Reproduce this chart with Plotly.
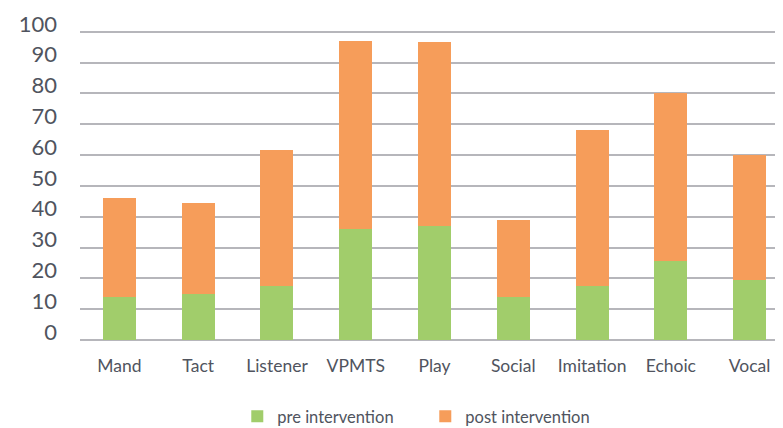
import plotly.graph_objects as go

categories = ["Mand", "Tact", "Listener", "VPMTS", "Play", "Social", "Imitation", "Echoic", "Vocal"]
pre_values = [14, 15, 17.5, 36, 37, 14, 17.5, 25.5, 19.5]
post_values = [32, 29.5, 44, 61, 59.8, 25, 50.5, 54.5, 40.5]
y_ticks = [0, 10, 20, 30, 40, 50, 60, 70, 80, 90, 100]

text_color = "#50545e"
font_family = "Lato, 'Open Sans', sans-serif"

fig = go.Figure()
fig.add_trace(go.Bar(x=categories, y=pre_values, name="pre intervention",
                     marker=dict(color="#A1CD6B", line=dict(width=0))))
fig.add_trace(go.Bar(x=categories, y=post_values, name="post intervention",
                     marker=dict(color="#F69D5A", line=dict(width=0))))

fig.update_layout(
    barmode="stack",
    bargap=0.58,
    width=783, height=428,
    margin=dict(l=72, r=2, t=22.4, b=94.3),
    plot_bgcolor="white", paper_bgcolor="white",
    font=dict(family=font_family, color=text_color),
    showlegend=True,
    legend=dict(orientation="h", x=0.487, xanchor="center", y=-0.247, yanchor="middle",
                font=dict(size=16.5, color=text_color), itemwidth=30,
                entrywidth=143, traceorder="normal"),
    xaxis=dict(range=[-0.5, 8.5], showgrid=False, showline=False, ticks="",
               automargin=False,
               tickfont=dict(size=17.5, color=text_color), ticklabelstandoff=13),
    yaxis=dict(range=[0, 100.6], tickvals=y_ticks, showgrid=True, gridcolor="#B6B6BB",
               gridwidth=2, zeroline=True, zerolinecolor="#B6B6BB", zerolinewidth=2,
               automargin=False,
               showline=False, ticks="", tickfont=dict(size=22, color=text_color),
               ticklabelstandoff=22, ticklabelshift=-8),
)

fig.write_html("out.html")
